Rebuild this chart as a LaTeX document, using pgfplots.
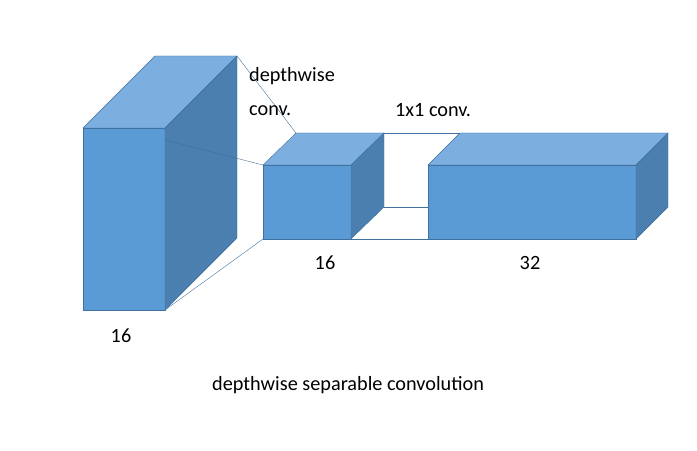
\documentclass[border=0pt]{standalone}
\usepackage{pgfplots}
\pgfplotsset{compat=1.18}
\usepackage{fontspec}
\setmainfont{Carlito}
\definecolor{fr}{HTML}{5B9BD5}
\definecolor{tp}{HTML}{7CAFE0}
\definecolor{sd}{HTML}{4A7FB0}
\definecolor{ed}{HTML}{41719C}
\begin{document}
\begin{tikzpicture}
\begin{axis}[width=10in,height=6.4706in,scale only axis,hide axis,
 xmin=0,xmax=697,ymin=-451,ymax=0,enlargelimits=false,clip=false]
\addplot[draw=none,forget plot] coordinates {(0,0)(697,-451)};
% big box
\addplot[fill=fr,draw=ed] coordinates {(83,-128)(165,-128)(165,-310)(83,-310)} --cycle;
\addplot[fill=tp,draw=ed] coordinates {(83,-128)(165,-128)(237,-56)(155,-56)} --cycle;
\addplot[fill=sd,draw=ed] coordinates {(165,-128)(237,-56)(237,-238)(165,-310)} --cycle;
% middle box
\addplot[fill=fr,draw=ed] coordinates {(263,-165)(351,-165)(351,-239)(263,-239)} --cycle;
\addplot[fill=tp,draw=ed] coordinates {(263,-165)(351,-165)(384,-133)(296,-133)} --cycle;
\addplot[fill=sd,draw=ed] coordinates {(351,-165)(384,-133)(384,-207)(351,-239)} --cycle;
% right box
\addplot[fill=fr,draw=ed] coordinates {(428,-165)(636,-165)(636,-239)(428,-239)} --cycle;
\addplot[fill=tp,draw=ed] coordinates {(428,-165)(636,-165)(668,-133)(460,-133)} --cycle;
\addplot[fill=sd,draw=ed] coordinates {(636,-165)(668,-133)(668,-207)(636,-239)} --cycle;
% connecting lines
\addplot[ed,thin] coordinates {(237,-56)(296,-133)};
\addplot[ed,thin] coordinates {(165,-140)(263,-165)};
\addplot[ed,thin] coordinates {(165,-310)(263,-239)};
\addplot[ed,thin] coordinates {(384,-133)(460,-133)};
\addplot[ed,thin] coordinates {(351,-239)(428,-239)};
\addplot[ed,thin] coordinates {(384,-207)(428,-207)};
\begin{scope}[every node/.style={font=\fontsize{21}{24}\selectfont,inner sep=0pt}]
\node[anchor=west] at (axis cs:249,-76) {depthwise};
\node[anchor=west] at (axis cs:249,-111) {conv.};
\node[anchor=west] at (axis cs:395,-110) {1x1 conv.};
\node at (axis cs:325,-263) {16};
\node at (axis cs:530,-263) {32};
\node at (axis cs:121,-336) {16};
\node[anchor=west] at (axis cs:212,-385) {depthwise separable convolution};
\end{scope}
\end{axis}
\end{tikzpicture}
\end{document}
